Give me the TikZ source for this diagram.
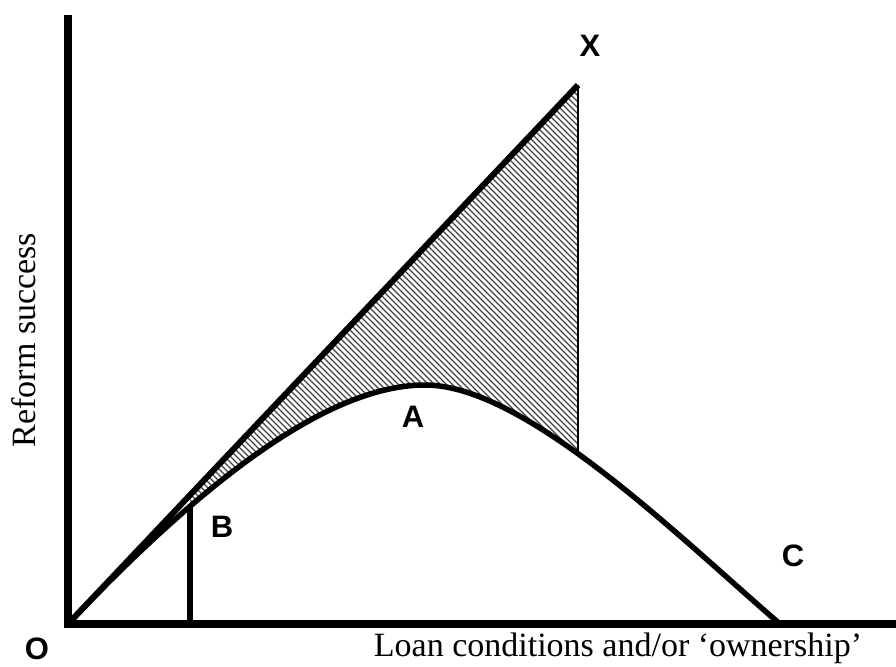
\documentclass[tikz,border=0pt]{standalone}
\usepackage{fontspec}
\setmainfont{Liberation Serif}
\newfontfamily\letterfont{Liberation Sans}
\usetikzlibrary{calc}

\begin{document}
\begin{tikzpicture}[x=1pt,y=-1pt,line join=miter,
  ptlbl/.style={font=\letterfont\bfseries\fontsize{31}{31}\selectfont,inner sep=0pt},
  axlbl/.style={font=\fontsize{34}{38}\selectfont,inner sep=0pt}]
\useasboundingbox (0,0) rectangle (896,666);
\coordinate (O) at (68,624);
\coordinate (Ytop) at (68,15);
\coordinate (Xend) at (896,624);
\coordinate (Xtop) at (578,85);
\coordinate (Xfoot) at (578,624);
\coordinate (Xcurve) at (578,456);
\coordinate (Apk) at (425,385);
\coordinate (Cend) at (780,624);
\coordinate (Bfoot) at (190,624);
\coordinate (Bcurve) at (190,505);
\coordinate (Bdiag) at (190,495);
% hatched gap between line and curve
\begin{scope}
\clip (Bdiag) -- (Xtop) -- (Xfoot) -- (Bfoot) -- cycle;
\foreach \s in {-700,-694,...,900}
  \draw[black!75,line width=1.3pt] (\s,0) -- ++(700,700);
\end{scope}
\fill[white] (O) .. controls (228,455) and (342,385) .. (Apk)
  .. controls (526,385) and (680,538) .. (Cend) -- cycle;
\draw[line width=6pt] (O) -- (Xtop);
\draw[line width=2.5pt] (Xtop) -- (Xcurve);
\draw[line width=5.5pt] (Bfoot) -- (Bcurve);
\draw[line width=5.5pt] (O) .. controls (228,455) and (342,385) .. (Apk)
  .. controls (526,385) and (680,538) .. (Cend);
\draw[line width=8pt] (Ytop) -- (O) -- (Xend);
\node[ptlbl] (labX) at (590,46) {X};
\node[ptlbl] (labA) at (413,417) {A};
\node[ptlbl] (labB) at (222,527) {B};
\node[ptlbl] (labC) at (793,556) {C};
\node[ptlbl,anchor=base] (labO) at (37,659) {O};
\node[axlbl,rotate=90] (ylab) at (24,340) {Reform success};
\node[axlbl,anchor=base] (xlab) at (618,656) {Loan conditions and/or `ownership'};
\end{tikzpicture}
\end{document}
